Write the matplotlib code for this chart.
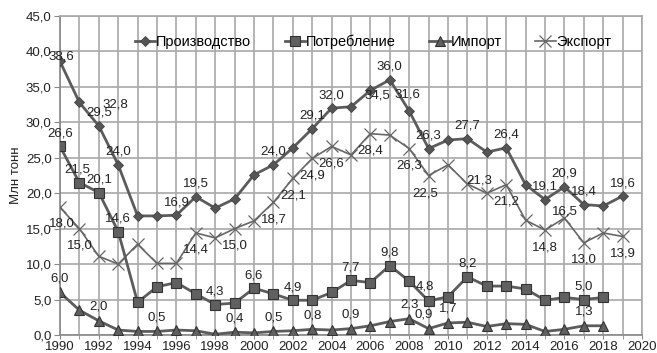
import matplotlib
matplotlib.use("Agg")
import matplotlib.pyplot as plt
from matplotlib.ticker import MultipleLocator, FuncFormatter

plt.rcParams['font.family'] = ['Liberation Sans', 'DejaVu Sans']

# ── Data (млн тонн) ───────────────────────────────────────────────────────────
years = list(range(1990, 2020))

production = [38.6, 32.8, 29.5, 24.0, 16.8, 16.8, 16.9, 19.5, 17.9, 19.2,
              22.6, 24.0, 26.4, 29.1, 32.0, 32.2, 34.5, 36.0, 31.6, 26.3,
              27.5, 27.7, 25.8, 26.4, 21.2, 19.1, 20.9, 18.4, 18.2, 19.6]

consumption = [26.6, 21.5, 20.1, 14.6, 4.6, 6.8, 7.4, 5.8, 4.3, 4.5,
               6.6, 5.8, 4.9, 4.9, 6.0, 7.7, 7.4, 9.8, 7.6, 4.8,
               5.4, 8.2, 6.9, 6.9, 6.5, 4.9, 5.3, 5.0, 5.3]

imports = [6.0, 3.5, 2.0, 0.7, 0.5, 0.5, 0.7, 0.6, 0.1, 0.4,
           0.3, 0.5, 0.6, 0.8, 0.7, 0.9, 1.3, 1.9, 2.3, 0.9,
           1.7, 1.8, 1.2, 1.6, 1.5, 0.5, 0.8, 1.3, 1.3]

exports = [18.0, 15.0, 11.1, 10.0, 12.8, 10.1, 10.1, 14.4, 13.7, 15.0,
           16.1, 18.7, 22.1, 24.9, 26.6, 25.4, 28.4, 28.2, 26.3, 22.5,
           24.0, 21.3, 20.0, 21.2, 16.2, 14.8, 16.5, 13.0, 14.4, 13.9]

# years that carry a value label
prod_labeled = [1990, 1991, 1992, 1993, 1996, 1997, 2001, 2003, 2004, 2006,
                2007, 2008, 2009, 2011, 2013, 2015, 2016, 2017, 2019]
cons_labeled = [1990, 1991, 1992, 1993, 1998, 2000, 2002, 2005, 2007, 2009,
                2011, 2017]
imp_labeled = [1990, 1992, 1995, 1999, 2001, 2003, 2005, 2008, 2009, 2010, 2017]
exp_labeled = [1990, 1991, 1997, 1999, 2001, 2002, 2003, 2004, 2006, 2008,
               2009, 2011, 2013, 2015, 2016, 2017, 2019]

# ── Figure ────────────────────────────────────────────────────────────────────
fig = plt.figure(figsize=(6.57, 3.53), dpi=100)
ax = fig.add_axes([60 / 657, 18 / 353, 582 / 657, 319 / 353])

LINE = '#5c5c5c'
MARK = '#555555'

ax.plot(years, production, color=LINE, lw=2.0, marker='D', ms=5,
        mfc=MARK, mec='#444444', mew=0.6, label='Производство', zorder=4)
ax.plot(years[:len(consumption)], consumption, color=LINE, lw=2.0, marker='s', ms=7,
        mfc='#606060', mec='#333333', mew=0.8, label='Потребление', zorder=4)
ax.plot(years[:len(imports)], imports, color=LINE, lw=2.0, marker='^', ms=7,
        mfc='#606060', mec='#333333', mew=0.8, label='Импорт', zorder=4)
ax.plot(years, exports, color='#666666', lw=1.2, marker='x', ms=8,
        mec='#666666', mew=0.9, label='Экспорт', zorder=3)


def fmt(v):
    return f'{v:.1f}'.replace('.', ',')


def put_labels(values, labeled, default, extra):
    for yr in labeled:
        v = values[yr - 1990]
        dx, dy = extra.get(yr, default)
        ax.annotate(fmt(v), (yr, v), xytext=(dx, dy), textcoords='offset pixels',
                    ha='center', va='center', fontsize=9.5, color='#222222', zorder=6)


put_labels(production, prod_labeled, (0, 13),
           {1990: (1, 5), 1991: (36, -2), 2006: (7, -5), 2008: (-2, 16)})
put_labels(consumption, cons_labeled, (0, 13), {1991: (-2, 13), 2009: (-4, 14)})
put_labels(imports, imp_labeled, (0, 14), {2009: (-5, 14)})
put_labels(exports, exp_labeled, (0, -17),
           {1990: (2, -16), 2009: (-3, -18), 2011: (12, 4), 2016: (0, 7)})

# ── Axes styling ──────────────────────────────────────────────────────────────
ax.set_xlim(1990, 2020)
ax.set_ylim(0, 45)
ax.xaxis.set_major_locator(MultipleLocator(2))
ax.xaxis.set_minor_locator(MultipleLocator(1))
ax.yaxis.set_major_locator(MultipleLocator(5))
ax.yaxis.set_major_formatter(FuncFormatter(lambda v, p: fmt(v)))

ax.grid(True, which='both', axis='x', color='#a8a8a8', lw=1.2)
ax.grid(True, which='major', axis='y', color='#a8a8a8', lw=1.2)
ax.set_axisbelow(True)

for side in ['top', 'right']:
    ax.spines[side].set_color('#a8a8a8')
    ax.spines[side].set_linewidth(1.2)
for side in ['left', 'bottom']:
    ax.spines[side].set_color('#888888')
    ax.spines[side].set_linewidth(1.2)

ax.tick_params(axis='y', which='major', length=4, color='#888888',
               labelsize=9.5, labelcolor='#222222', pad=2)
ax.tick_params(axis='x', which='both', length=3, color='#888888',
               labelsize=9.5, labelcolor='#222222', pad=1)

ax.set_ylabel('Млн тонн', fontsize=9.5, color='#222222', labelpad=3)

ax.legend(loc='center', bbox_to_anchor=(0.538, 0.918), ncol=4, frameon=False,
          fontsize=10.5, handlelength=1.4, handletextpad=0.05, columnspacing=2.3,
          borderaxespad=0.0, borderpad=0.0)

fig.savefig('out.png', dpi=100)
